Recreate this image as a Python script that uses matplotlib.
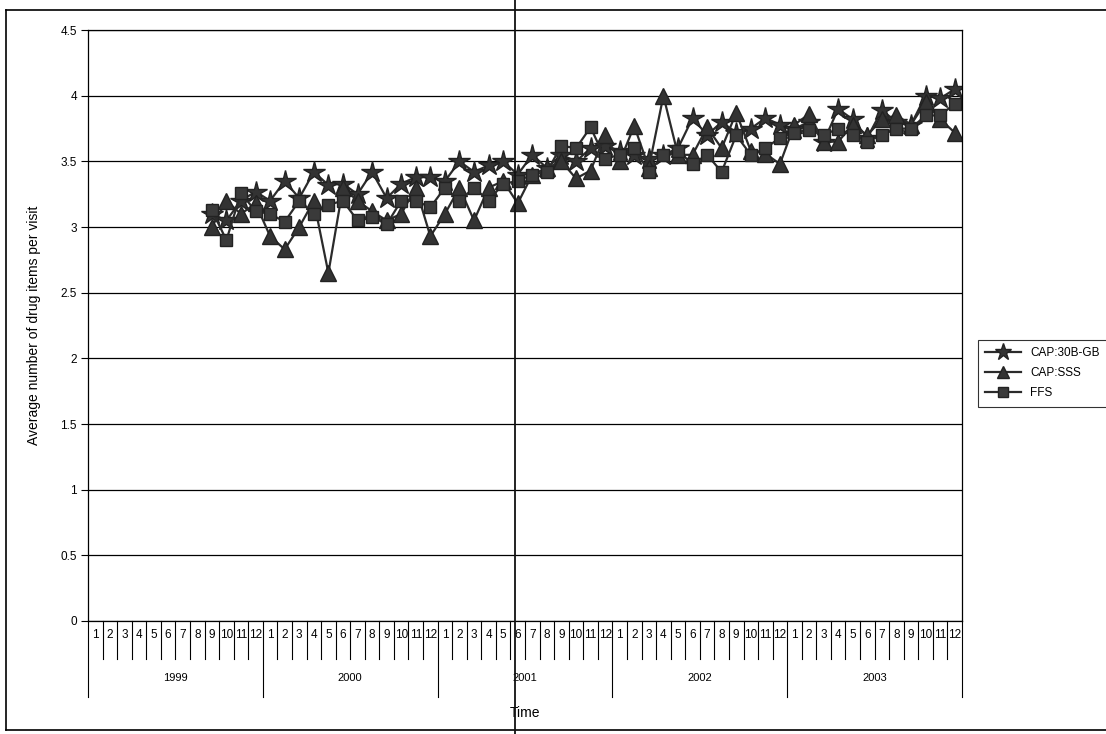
import matplotlib
matplotlib.use("Agg")
import matplotlib.pyplot as plt
import matplotlib.transforms as mtransforms
from matplotlib.lines import Line2D

plt.rcParams["font.family"] = ["Liberation Sans", "DejaVu Sans"]

# data: monthly averages, Sep 1999 .. Dec 2003
years = ["1999", "2000", "2001", "2002", "2003"]
months = [str(m) for m in range(1, 13)]
start_idx = 8  # first value is 1999 month 9

cap_30b = [3.10, 3.05, 3.20, 3.27, 3.20, 3.35, 3.22, 3.42, 3.32, 3.33, 3.25, 3.42,
           3.22, 3.33, 3.38, 3.38, 3.35, 3.50, 3.42, 3.47, 3.50, 3.40, 3.55, 3.45,
           3.55, 3.50, 3.60, 3.62, 3.58, 3.55, 3.52, 3.55, 3.60, 3.83, 3.70, 3.80,
           3.72, 3.75, 3.83, 3.78, 3.75, 3.80, 3.65, 3.90, 3.82, 3.68, 3.89, 3.80,
           3.78, 4.00, 3.98, 4.05]
cap_sss = [3.00, 3.20, 3.10, 3.18, 2.93, 2.83, 3.00, 3.20, 2.65, 3.30, 3.20, 3.12,
           3.05, 3.10, 3.30, 2.93, 3.10, 3.30, 3.05, 3.30, 3.35, 3.18, 3.40, 3.45,
           3.50, 3.37, 3.43, 3.70, 3.50, 3.77, 3.45, 4.00, 3.55, 3.55, 3.76, 3.60,
           3.87, 3.58, 3.56, 3.48, 3.78, 3.86, 3.65, 3.65, 3.78, 3.70, 3.82, 3.85,
           3.78, 3.95, 3.82, 3.72]
ffs = [3.13, 2.90, 3.26, 3.12, 3.10, 3.04, 3.20, 3.10, 3.17, 3.20, 3.05, 3.08,
       3.02, 3.20, 3.20, 3.15, 3.30, 3.20, 3.30, 3.20, 3.33, 3.35, 3.40, 3.42,
       3.62, 3.60, 3.76, 3.52, 3.55, 3.60, 3.42, 3.55, 3.58, 3.48, 3.55, 3.42,
       3.70, 3.55, 3.60, 3.68, 3.72, 3.74, 3.70, 3.75, 3.70, 3.65, 3.70, 3.75,
       3.75, 3.85, 3.85, 3.94]

n_months = len(years) * len(months)
x = list(range(start_idx, start_idx + len(cap_30b)))

fig = plt.figure(figsize=(11.06, 7.34), dpi=100)
ax = fig.add_axes([0.0796, 0.154, 0.7902, 0.805])

col = "#2b2b2b"
ax.plot(x, cap_30b, color=col, lw=1.6, marker="*", ms=16, mfc="#333333", mec="#222222", label="CAP:30B-GB")
ax.plot(x, cap_sss, color=col, lw=1.6, marker="^", ms=11, mfc="#333333", mec="#222222", label="CAP:SSS")
ax.plot(x, ffs, color=col, lw=1.6, marker="s", ms=9, mfc="#3a3a3a", mec="#222222", label="FFS")

ax.set_xlim(-0.5, n_months - 0.5)
ax.set_ylim(0, 4.5)
ax.set_yticks([i * 0.5 for i in range(10)])
ax.set_yticklabels(["0", "0.5", "1", "1.5", "2", "2.5", "3", "3.5", "4", "4.5"], fontsize=8.5)
ax.yaxis.grid(True, color="black", lw=0.9)
ax.set_axisbelow(True)
ax.tick_params(axis="y", length=5, width=0.8, pad=3)
ax.set_xticks([])
for s in ax.spines.values():
    s.set_color("black")
    s.set_linewidth(0.9)

ax.set_ylabel("Average number of drug items per visit", fontsize=10, labelpad=14)

# two-level category axis drawn by hand
trans = mtransforms.blended_transform_factory(ax.transData, ax.transAxes)
for b in range(n_months + 1):
    pos = b - 0.5
    bottom = -0.129 if b % 12 == 0 else -0.064
    ax.add_line(Line2D([pos, pos], [0, bottom], transform=trans, color="black", lw=0.8, clip_on=False))
for i in range(n_months):
    ax.text(i, -0.024, months[i % 12], transform=trans, ha="center", va="center", fontsize=8.5)
for k, yr in enumerate(years):
    ax.text(k * 12 + 5.5, -0.096, yr, transform=trans, ha="center", va="center", fontsize=8)
ax.text(0.5, -0.156, "Time", transform=ax.transAxes, ha="center", va="center", fontsize=10)

leg = fig.legend(loc="upper left", bbox_to_anchor=(0.879, 0.545), fontsize=8.5, frameon=True,
                 fancybox=False, edgecolor="black", handlelength=3, borderpad=0.6,
                 labelspacing=0.7, markerscale=0.8)
leg.get_frame().set_linewidth(0.8)

# outer frame and the stray page line from the scan
fig.add_artist(Line2D([6 / 1106, 6 / 1106], [1 - 10 / 734, 1 - 730 / 734], color="black", lw=1.2))
fig.add_artist(Line2D([6 / 1106, 1], [1 - 10 / 734, 1 - 10 / 734], color="black", lw=1.2))
fig.add_artist(Line2D([6 / 1106, 1], [1 - 730 / 734, 1 - 730 / 734], color="black", lw=1.2))
fig.add_artist(Line2D([515 / 1106, 515 / 1106], [0, 1], color="#111111", lw=1.3))

fig.savefig("out.png", dpi=100)
